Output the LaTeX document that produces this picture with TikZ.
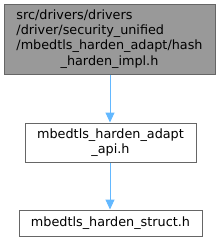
\documentclass[tikz,border=0pt]{standalone}
\usepackage{fontspec}
\setmainfont{DejaVu Sans}
\usetikzlibrary{arrows.meta}
\definecolor{edgeblue}{HTML}{63B8FF}
\definecolor{boxborder}{HTML}{666666}
\definecolor{topfill}{HTML}{999999}
\tikzset{
  filebox/.style={draw=boxborder, line width=1pt, rectangle, inner sep=0pt,
    font=\fontsize{12.8pt}{15.3pt}\selectfont, align=center},
  dep/.style={draw=edgeblue, line width=1pt, -{Triangle[length=10pt,width=9pt]}}
}
\begin{document}
\begin{tikzpicture}[x=1pt,y=-1pt]
\useasboundingbox (0,0) rectangle (221,241);
\node[filebox, fill=topfill, minimum width=211pt, minimum height=70pt] (top) at (109.5,39)
  {\begin{tabular}{@{}l@{}}src/drivers/drivers\\/driver/security\_unified\\/mbedtls\_harden\_adapt/hash\\\multicolumn{1}{@{}c@{}}{\_harden\_impl.h}\end{tabular}};
\node[filebox, fill=white, minimum width=171pt, minimum height=39pt] (api) at (110.5,142.5)
  {mbedtls\_harden\_adapt\\\_api.h};
\node[filebox, fill=white, minimum width=183pt, minimum height=26pt] (struct) at (110.5,223)
  {mbedtls\_harden\_struct.h};
\draw[dep] (top.south -| 110,0) -- (api.north -| 110,0);
\draw[dep] (api.south -| 110,0) -- (struct.north -| 110,0);
\end{tikzpicture}
\end{document}
